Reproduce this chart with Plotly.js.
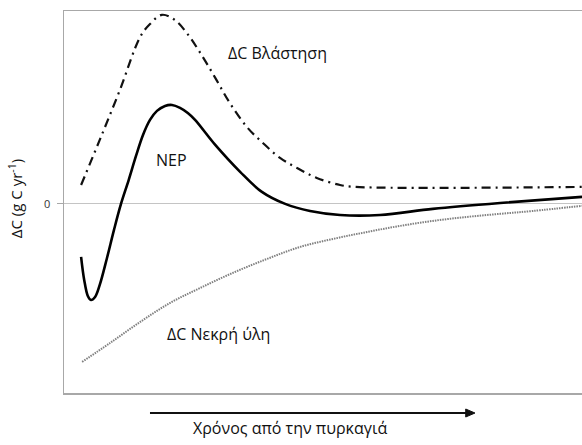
<!DOCTYPE html>
<html><head><meta charset="utf-8">
<script src="https://cdn.plot.ly/plotly-3.0.1.min.js"></script>
<style>html,body{margin:0;padding:0;background:#fff}</style>
</head><body><div id="chart" style="width:582px;height:445px"></div>
<script>
// Time since fire (arbitrary units) and ΔC values (arbitrary units)
const vegX = [3.3, 6.9, 10.8, 14.7, 16.6, 18.9, 21.4, 23.7, 26.3, 29.2, 32.0, 35.3, 38.4, 41.7, 45.0, 48.8, 53.3, 56.2, 100];
const vegY = [9.9, 33.5, 59.7, 87.4, 94.2, 99.0, 96.3, 89.5, 79.1, 66.0, 52.9, 40.3, 31.9, 24.1, 18.8, 13.6, 9.9, 8.9, 8.9];

const nepX = [3.3, 3.9, 4.6, 5.2, 6.0, 6.9, 8.3, 9.65, 11.0, 12.5, 13.9, 15.25, 16.6, 17.95, 19.5, 20.85, 22.4, 23.9, 25.3, 29.2, 34.0, 38.2, 42.7, 47.5, 53.3, 61.0, 71.2, 84.2, 100];
const nepY = [-27.7, -39.8, -48.2, -50.3, -48.7, -42.4, -28.3, -13.6, 0, 12.6, 25.1, 36.1, 44.0, 48.7, 51.3, 51.8, 50.3, 47.6, 44.0, 30.9, 16.8, 6.3, 0, -3.7, -5.8, -5.8, -2.6, 0.5, 3.7];

const deadX = [3.5, 8.9, 14.7, 20.5, 26.3, 32.6, 39.2, 45.6, 52.0, 58.5, 64.9, 71.2, 77.8, 84.2, 90.5, 100];
const deadY = [-82.7, -72.8, -61.8, -51.8, -44.0, -36.1, -28.8, -22.5, -18.3, -14.7, -11.5, -8.9, -6.8, -5.2, -3.7, -1.0];

const yTickVals = [0];
const yTickText = ['0'];

const labelFont = {family: 'Open Sans, Noto Sans, sans-serif', size: 16, color: '#111'};

const traces = [
  {x: vegX, y: vegY, mode: 'lines', name: 'ΔC Βλάστηση', line: {color: '#111', width: 2.2, dash: '9px,5px,2px,5px', shape: 'spline', smoothing: 1}},
  {x: nepX, y: nepY, mode: 'lines', name: 'NEP', line: {color: '#000', width: 2.6, shape: 'spline', smoothing: 1}},
  {x: deadX, y: deadY, mode: 'lines', name: 'ΔC Νεκρή ύλη', line: {color: '#808080', width: 2, dash: '1.5px,1px', shape: 'spline', smoothing: 1}}
];

const layout = {
  width: 582, height: 445,
  margin: {l: 64, r: 0, t: 11, b: 52},
  paper_bgcolor: '#fff', plot_bgcolor: '#fff',
  showlegend: false,
  xaxis: {range: [0, 100], showgrid: false, zeroline: false, showticklabels: false, ticks: '',
          showline: true, mirror: true, linecolor: '#a8a8a8', linewidth: 1.5},
  yaxis: {range: [-99, 101], showgrid: false, zeroline: true, zerolinecolor: '#c4c4c4', zerolinewidth: 1,
          tickvals: yTickVals, ticktext: yTickText, ticks: 'outside', ticklen: 6, tickcolor: '#a8a8a8', tickwidth: 1,
          ticklabelstandoff: 4,
          tickfont: {family: 'Open Sans, sans-serif', size: 11, color: '#333'},
          showline: true, linecolor: '#a8a8a8', linewidth: 1.5},
  shapes: [
    {type: 'line', xref: 'paper', yref: 'paper', x0: 0.1660, x1: 0.785, y0: -0.0524, y1: -0.0524,
     line: {color: '#111', width: 2}},
    {type: 'path', xref: 'paper', yref: 'paper',
     path: 'M 0.7755 -0.0419 L 0.7934 -0.0524 L 0.7755 -0.0629 Z', fillcolor: '#111', line: {color: '#111', width: 1}}
  ],
  annotations: [
    {text: 'ΔC Βλάστηση', x: 41.3, y: 79.1, xref: 'x', yref: 'y', showarrow: false, font: labelFont},
    {text: 'NEP', x: 20.8, y: 23.0, xref: 'x', yref: 'y', showarrow: false, font: labelFont},
    {text: 'ΔC Νεκρή ύλη', x: 29.9, y: -68.0, xref: 'x', yref: 'y', showarrow: false, font: labelFont},
    {text: 'Χρόνος από την πυρκαγιά', x: 0.4363, y: -0.0916, xref: 'paper', yref: 'paper', xanchor: 'center', yanchor: 'middle',
     showarrow: false, font: {family: 'Open Sans, sans-serif', size: 16, color: '#111'}},
    {text: 'ΔC (g C yr<sup>-1</sup>)', x: -0.0946, y: 0.51, xref: 'paper', yref: 'paper', xanchor: 'center', yanchor: 'middle',
     showarrow: false, textangle: -90,
     font: {family: 'Open Sans, sans-serif', size: 15, color: '#111'}}
  ]
};

Plotly.newPlot('chart', traces, layout, {displayModeBar: false, staticPlot: true});
</script></body></html>
